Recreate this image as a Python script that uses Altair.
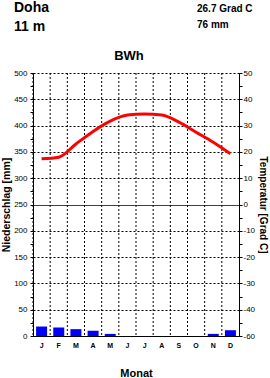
import altair as alt
import pandas as pd

station = "Doha"
elevation = "11 m"
annual_temp = "26.7 Grad C"
annual_precip = "76 mm"
climate_class = "BWh"

months = ["Jan", "Feb", "Mär", "Apr", "Mai", "Jun", "Jul", "Aug", "Sep", "Okt", "Nov", "Dez"]
precip = [18, 16, 13, 10, 4, 0, 0, 0, 0, 0, 4, 11]
temp = [17.4, 18.0, 23.0, 27.8, 31.7, 34.0, 34.4, 34.0, 31.3, 27.5, 23.7, 19.3]

df = pd.DataFrame({"Monat": months, "Niederschlag": precip, "Temperatur": temp})

FONT = "Liberation Sans"

x_axis = alt.Axis(
    title="Monat",
    labelExpr="upper(substring(datum.value, 0, 1))",
    labelAngle=0,
    ticks=False,
    grid=False,
    domainColor="black",
    labelFont=FONT, labelFontSize=7, labelFontWeight="bold", labelColor="black",
    labelPadding=5,
    titleFont=FONT, titleFontSize=11, titleFontWeight="bold", titleColor="black",
    titlePadding=19,
)
x_scale = alt.Scale(paddingInner=0, paddingOuter=0)

left_axis = alt.Axis(
    title="Niederschlag [mm]",
    values=list(range(0, 501, 25)),
    labelExpr="datum.value % 50 === 0 ? '' + datum.value : ''",
    tickSize=3, tickColor="black", domainColor="black",
    labelFont=FONT, labelFontSize=8, labelColor="black", labelPadding=3,
    grid=True, gridColor="black",
    gridDash={"condition": {"test": "datum.value === 250", "value": [1, 0]}, "value": [2, 2]},
    gridOpacity={"condition": {"test": "datum.value % 50 !== 0", "value": 0}, "value": 1},
    titleFont=FONT, titleFontSize=10.5, titleFontWeight="bold", titleColor="black",
    titlePadding=2,
)

right_axis = alt.Axis(
    orient="right",
    title="Temperatur [Grad C]",
    values=list(range(-50, 51, 5)),
    labelExpr="datum.value % 10 !== 0 ? '' : (datum.value === -50 ? '-60' : '' + datum.value)",
    tickSize=3, tickColor="black", domainColor="black",
    labelFont=FONT, labelFontSize=8, labelColor="black", labelPadding=1,
    grid=False,
    titleFont=FONT, titleFontSize=10, titleFontWeight="bold", titleColor="black",
    titlePadding=3,
)

rules = alt.Chart(df).mark_rule(color="black", strokeDash=[2, 2], strokeWidth=1).encode(
    x=alt.X("Monat:N", sort=months, scale=x_scale, axis=x_axis, bandPosition=0)
)

bars = alt.Chart(df).mark_bar(color="#0000ff", width=alt.RelativeBandSize(0.64)).encode(
    x=alt.X("Monat:N", sort=months, scale=x_scale, axis=x_axis),
    y=alt.Y("Niederschlag:Q", scale=alt.Scale(domain=[0, 500], nice=False), axis=left_axis),
)

line = alt.Chart(df).mark_line(color="#ff0000", strokeWidth=3, interpolate="monotone").encode(
    x=alt.X("Monat:N", sort=months, scale=x_scale, axis=x_axis),
    y=alt.Y("Temperatur:Q", scale=alt.Scale(domain=[-50, 50], nice=False), axis=right_axis),
)


def label(text, x, y, size, align="left"):
    return alt.Chart(pd.DataFrame({"t": [text]})).mark_text(
        font=FONT, fontSize=size, fontWeight="bold", color="black",
        align=align, baseline="alphabetic",
    ).encode(text="t:N", x=alt.value(x), y=alt.value(y))


texts = [
    label(station, -19, -61, 14),
    label(elevation, -19, -42, 14),
    label(annual_temp, 164, -61, 10),
    label(annual_precip, 164, -45, 10),
    label(climate_class, 96, -13, 13, "center"),
]

chart = alt.layer(rules, bars, line, *texts).resolve_scale(y="independent").properties(
    width=206,
    height=263,
    autosize=alt.AutoSizeParams(type="none"),
    padding={"left": 33, "top": 73, "right": 31, "bottom": 42},
    background="white",
).configure_view(stroke=None)

chart.save("out.html", embed_options={"renderer": "svg", "actions": False})
